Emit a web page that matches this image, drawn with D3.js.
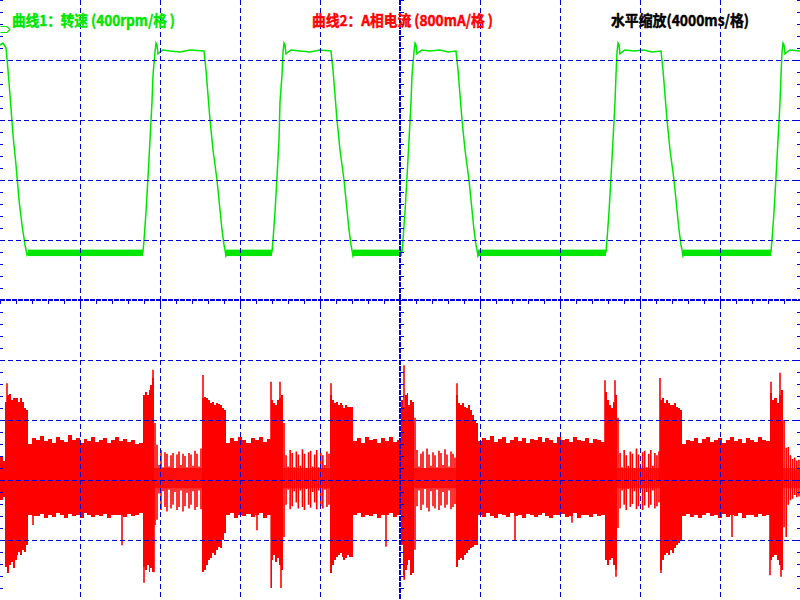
<!DOCTYPE html>
<html>
<head>
<meta charset="utf-8">
<script src="https://cdn.jsdelivr.net/npm/d3@7"></script>
<style>
  body { margin: 0; background: #fff; }
  svg { display: block; }
  .title { font-family: "Noto Sans CJK SC", sans-serif; font-weight: bold; font-size: 15px; stroke-width: 0.45px; }
</style>
</head>
<body>
<svg id="scope"></svg>
<script>
var width = 800,
  height = 600,
  divisions = 10,
  secPerDiv = 4,      // 4000 ms / div
  rpmPerDiv = 400,
  maPerDiv = 800;

var titles = ["曲线1：转速 (400rpm/格 )", "曲线2：A相电流 (800mA/格 )", "水平缩放(4000ms/格)"];
var titleColors = ["#00e600", "#ff0000", "#000000"];

// channel 1 : speed (s, rpm)
var speedPoints = [
  [0, 1700], [0.15, 1713], [0.3, 1680], [0.4, 1533], [0.5, 1367], [0.65, 1100], [0.8, 900], [0.95, 667], [1.1, 500], [1.25, 367], [1.35, 300], [1.45, 320],
  [7.15, 320], [7.2, 400], [7.3, 587], [7.4, 820], [7.5, 1067], [7.6, 1320], [7.65, 1500], [7.75, 1653], [7.8, 1713], [7.85, 1700], [7.9, 1640], [8.0, 1653], [8.15, 1667], [8.5, 1660], [9.0, 1653], [9.5, 1667], [10.2, 1660],
  [10.3, 1533], [10.4, 1367], [10.5, 1200], [10.65, 1000], [10.85, 800], [10.95, 667], [11.1, 467], [11.2, 367], [11.25, 333], [11.3, 293], [11.4, 320],
  [13.6, 320], [13.65, 400], [13.75, 587], [13.85, 820], [13.95, 1067], [14.0, 1320], [14.1, 1500], [14.15, 1653], [14.2, 1713], [14.25, 1700], [14.3, 1640], [14.4, 1653], [14.55, 1667], [15.0, 1660], [15.5, 1653], [16.0, 1667], [16.55, 1660],
  [16.65, 1533], [16.75, 1367], [16.85, 1200], [17.0, 1000], [17.2, 800], [17.3, 667], [17.45, 467], [17.55, 367], [17.6, 333], [17.65, 293], [17.75, 320],
  [20.1, 320], [20.15, 400], [20.25, 587], [20.35, 820], [20.45, 1067], [20.55, 1320], [20.6, 1500], [20.7, 1653], [20.75, 1713], [20.8, 1700], [20.85, 1640], [20.95, 1653], [21.1, 1667], [21.5, 1660], [22.0, 1667], [22.4, 1653], [22.8, 1660],
  [22.9, 1533], [23.0, 1367], [23.1, 1200], [23.25, 1000], [23.45, 800], [23.55, 667], [23.7, 467], [23.8, 367], [23.85, 333], [23.9, 293], [24.0, 320],
  [30.3, 320], [30.35, 400], [30.45, 587], [30.55, 820], [30.65, 1067], [30.75, 1320], [30.8, 1500], [30.85, 1653], [30.9, 1713], [30.95, 1700], [31.0, 1640], [31.1, 1653], [31.25, 1667], [31.7, 1660], [32.2, 1667], [32.6, 1653], [33.05, 1660],
  [33.15, 1533], [33.25, 1367], [33.35, 1200], [33.5, 1000], [33.7, 800], [33.8, 667], [33.95, 467], [34.05, 367], [34.1, 333], [34.15, 293], [34.25, 320],
  [38.55, 320], [38.6, 400], [38.7, 587], [38.8, 820], [38.9, 1067], [39.0, 1320], [39.05, 1500], [39.1, 1653], [39.15, 1713], [39.2, 1700], [39.25, 1640], [39.35, 1653], [39.5, 1667], [40, 1660]
];

// noisy low-speed stretches (s) and the band they fill (rpm)
var lowFrom = [1.4, 11.3, 17.65, 23.9, 34.15];
var lowTo = [7.15, 13.6, 20.1, 30.3, 38.55];
var lowBand = [293, 336];

// channel 2 : phase A current, segment by segment (s, mA)
var segKind = ["dense", "burst", "dense", "burst", "sparse", "sparse", "burst", "dense", "burst", "sparse", "burst",
  "dense", "burst", "sparse", "burst", "dense", "burst", "sparse", "burst", "dense", "burst", "sparse"];
var segStart = [0, 0.25, 1.4, 7.15, 7.7, 7.9, 10.1, 11.3, 13.55, 14.15, 16.5, 17.65, 20.05, 20.7, 22.8, 23.9, 30.25, 30.85, 33.0, 34.1, 38.5, 39.15];
var segEnd = [0.25, 1.4, 7.15, 7.7, 7.9, 10.1, 11.3, 13.55, 14.15, 16.5, 17.65, 20.05, 20.7, 22.8, 23.9, 30.25, 30.85, 33.0, 34.1, 38.5, 39.15, 40];
var segHi = [
  [310, 250],
  [1040, 1130, 1150, 1070, 1090, 1100, 1090, 1040, 1090, 1040, 960, 930],
  [480, 560, 530, 590, 520, 550, 500, 570, 540, 510, 600, 530, 560, 490, 550, 520, 580, 510, 540, 560, 500, 530, 570, 520, 550, 510, 540, 480, 500],
  [1130, 1170, 1130, 1200, 1270, 1360],
  [760, 470],
  [200, 400, 170, 370, 350, 180, 330, 360, 160, 340, 380, 200, 350, 320, 170, 360, 340, 190, 390, 350, 180, 420],
  [1100, 1110, 1090, 1070, 1030, 1040, 1000, 1030, 1010, 1000, 960, 930],
  [490, 560, 520, 570, 540, 500, 560, 530, 580, 510, 550],
  [1070, 1030, 1000, 1070, 1090, 1130],
  [760, 330, 180, 400, 360, 170, 380, 340, 190, 410, 350, 160, 370, 390, 180, 340, 400, 170, 360, 330, 200, 380, 350],
  [1130, 1070, 1030, 1040, 1000, 1030, 1000, 960, 1000, 970, 970, 970],
  [520, 560, 500, 570, 530, 550, 490, 560, 520, 570, 510, 540],
  [1070, 970, 1130, 1160, 1000, 1070, 1040],
  [830, 400, 180, 350, 380, 160, 420, 340, 190, 370, 330, 170, 390, 360, 200, 410, 340, 180, 380, 350, 300],
  [1130, 1030, 1000, 1030, 970, 960, 1000, 930, 870, 800, 760],
  [520, 560, 540, 590, 510, 550, 570, 500, 540, 580, 520, 560, 490, 550, 530, 570, 510, 560, 540, 500, 580, 530, 550, 510, 570, 540, 520, 560, 500, 550, 530, 510],
  [1170, 1070, 1000, 960, 1040, 1130],
  [830, 360, 170, 400, 330, 190, 380, 350, 160, 420, 340, 180, 370, 390, 170, 350, 400, 190, 360, 330, 380],
  [1070, 1090, 1030, 1070, 1030, 1000, 1000, 1030, 970, 960, 930],
  [480, 540, 520, 560, 500, 550, 580, 510, 540, 560, 490, 530, 570, 520, 550, 500, 560, 530, 510, 570, 540, 520],
  [1160, 1070, 1090, 1030, 1130, 1200],
  [800, 430, 440, 330, 280, 300, 260, 270]
];
var segLo = [
  [-270, -220],
  [-1160, -1240, -1130, -1090, -1170, -1070, -1000, -960, -1000, -930, -960, -870],
  [-470, -480, -480, -450, -500, -460, -490, -440, -470, -500, -450, -480, -460, -500, -440, -470, -490, -460, -480, -450, -500, -470, -460, -460, -490, -450, -480, -470, -440],
  [-1160, -1200, -1130, -1230, -1170, -1230],
  [-600, -530],
  [-180, -400, -150, -360, -420, -130, -380, -330, -160, -400, -360, -140, -420, -350, -170, -380, -330, -150, -400, -360, -140, -390],
  [-1230, -1200, -1130, -1070, -1040, -970, -1000, -930, -890, -910, -800, -710],
  [-470, -440, -500, -460, -480, -450, -490, -470, -440, -500, -460],
  [-1070, -1000, -1090, -1040, -1130, -1200],
  [-760, -330, -130, -390, -350, -150, -300, -380, -140, -360, -400, -120, -330, -370, -160, -300, -390, -140, -350, -380, -130, -360, -330],
  [-1240, -1130, -1070, -1030, -1000, -970, -1030, -1070, -1040, -1000, -1030, -1030],
  [-470, -440, -490, -460, -480, -450, -500, -460, -470, -440, -490, -460],
  [-870, -1270, -1200, -1130, -1070, -1270, -1240],
  [-930, -350, -140, -400, -330, -120, -370, -420, -150, -350, -380, -130, -400, -340, -160, -370, -330, -140, -390, -360, -320],
  [-1160, -1070, -1040, -1070, -1000, -970, -930, -910, -890, -870, -870],
  [-460, -490, -440, -480, -500, -450, -470, -490, -440, -480, -460, -500, -450, -470, -490, -460, -440, -480, -500, -460, -470, -450, -490, -480, -440, -500, -470, -460, -490, -450, -480, -470],
  [-1070, -1130, -1070, -1040, -1130, -1200],
  [-640, -380, -140, -330, -400, -120, -360, -320, -150, -390, -350, -130, -400, -340, -160, -370, -330, -140, -380, -350, -300],
  [-1200, -1070, -1000, -970, -1000, -930, -970, -910, -870, -840, -800],
  [-480, -450, -490, -470, -500, -460, -440, -480, -470, -500, -450, -490, -460, -480, -440, -500, -470, -460, -490, -450, -480, -470],
  [-1070, -1030, -1000, -1070, -1130, -1200],
  [-630, -760, -330, -270, -250, -200, -230, -220]
];
// the half-filled core of the sparse stretches (mA)
var sparseCore = [160, -110];

// single-sample spikes (s, mA)
var spikeTime = [0.35, 0.4, 1.65, 6.1, 7.2, 7.65, 7.7, 10.15, 12.85, 13.55, 13.56, 14.0, 14.05, 16.55, 19.3, 20.2, 20.21, 20.65,
  22.85, 25.75, 28.6, 30.25, 30.75, 30.8, 33.0, 33.05, 36.6, 38.5, 38.55, 39.0, 39.05];
var spikeMa = [1290, -1240, -600, -870, -1370, 1470, -1230, 1400, -670, 1310, -1440, 1310, -1440, 1290, -890, 1530, -1330, -1240,
  1290, -800, -570, 1330, 1330, -1290, 1360, -1240, -760, -1270, 1310, 1430, -1290];

var svg = d3.select("#scope")
  .attr("width", width)
  .attr("height", height);

svg.append("rect").attr("width", width).attr("height", height).attr("fill", "#fff");

var x = d3.scaleLinear().domain([0, divisions * secPerDiv]).range([0, width]);
var ySpeed = d3.scaleLinear().domain([-5 * rpmPerDiv, 5 * rpmPerDiv]).range([height, 0]);
var yCur = d3.scaleLinear().domain([-2 * maPerDiv, 8 * maPerDiv]).range([height, 0]);

var green = "#00e600", red = "#ff0000", blue = "#0000dd";

// ---- red trace
var redLayer = svg.append("g");
var bandArea = d3.area()
  .x(function(d) { return x(d.t); })
  .y0(function(d) { return yCur(d.lo); })
  .y1(function(d) { return yCur(d.hi); })
  .curve(d3.curveStepAfter);

segKind.forEach(function(kind, s) {
  var n = segHi[s].length,
    step = (segEnd[s] - segStart[s]) / n;
  var pts = segHi[s].map(function(h, i) {
    return { t: segStart[s] + i * step, hi: h, lo: segLo[s][i] };
  });
  if (kind === "sparse") {
    redLayer.append("rect")
      .attr("x", x(segStart[s]))
      .attr("width", x(segEnd[s]) - x(segStart[s]))
      .attr("y", yCur(sparseCore[0]))
      .attr("height", yCur(sparseCore[1]) - yCur(sparseCore[0]))
      .attr("fill", red)
      .attr("fill-opacity", 0.75);
    redLayer.selectAll(null)
      .data(pts)
      .enter().append("line")
      .attr("x1", function(d) { return x(d.t + step / 2); })
      .attr("x2", function(d) { return x(d.t + step / 2); })
      .attr("y1", function(d) { return yCur(d.hi); })
      .attr("y2", function(d) { return yCur(d.lo); })
      .attr("stroke", red)
      .attr("stroke-width", 1.6);
  } else {
    pts.push({ t: segEnd[s], hi: segHi[s][n - 1], lo: segLo[s][n - 1] });
    redLayer.append("path")
      .datum(pts)
      .attr("d", bandArea)
      .attr("fill", red)
      .attr("shape-rendering", "crispEdges");
  }
});

redLayer.selectAll(".spike")
  .data(spikeTime)
  .enter().append("line")
  .attr("class", "spike")
  .attr("x1", function(d) { return x(d); })
  .attr("x2", function(d) { return x(d); })
  .attr("y1", yCur(0))
  .attr("y2", function(d, i) { return yCur(spikeMa[i]); })
  .attr("stroke", red)
  .attr("stroke-width", 1.6);

// ---- green trace
svg.append("g").selectAll("rect")
  .data(lowFrom)
  .enter().append("rect")
  .attr("x", function(d) { return x(d); })
  .attr("width", function(d, i) { return x(lowTo[i]) - x(d); })
  .attr("y", ySpeed(lowBand[1]))
  .attr("height", ySpeed(lowBand[0]) - ySpeed(lowBand[1]))
  .attr("fill", green);

svg.append("path")
  .datum(speedPoints)
  .attr("d", d3.line()
    .x(function(d) { return x(d[0]); })
    .y(function(d) { return ySpeed(d[1]); }))
  .attr("fill", "none")
  .attr("stroke", green)
  .attr("stroke-width", 1.5);

// ---- grid
var grid = svg.append("g").attr("shape-rendering", "crispEdges");
var vLines = d3.range(1, divisions).filter(function(k) { return k !== divisions / 2; });
grid.selectAll(".gv")
  .data(vLines)
  .enter().append("line")
  .attr("x1", function(k) { return Math.round(x(k * secPerDiv)) + 0.5; })
  .attr("x2", function(k) { return Math.round(x(k * secPerDiv)) + 0.5; })
  .attr("y1", 0).attr("y2", height)
  .attr("stroke", blue).attr("stroke-dasharray", "5,3");
grid.selectAll(".gh")
  .data(d3.range(-4, 5).filter(function(k) { return k !== 0; }))
  .enter().append("line")
  .attr("y1", function(k) { return Math.round(ySpeed(k * rpmPerDiv)) + 0.5; })
  .attr("y2", function(k) { return Math.round(ySpeed(k * rpmPerDiv)) + 0.5; })
  .attr("x1", 0).attr("x2", width)
  .attr("stroke", blue).attr("stroke-dasharray", "5,3");

// centre cross with minor ticks
var cx = x(divisions * secPerDiv / 2), cy = ySpeed(0);
grid.append("line").attr("x1", cx).attr("x2", cx).attr("y1", 0).attr("y2", height)
  .attr("stroke", blue).attr("stroke-width", 2).attr("stroke-dasharray", "5,1");
grid.append("line").attr("y1", cy).attr("y2", cy).attr("x1", 0).attr("x2", width)
  .attr("stroke", blue).attr("stroke-width", 2).attr("stroke-dasharray", "5,1");

var minorT = d3.range(0, divisions * secPerDiv + 0.01, secPerDiv / 5);
grid.selectAll(".tx")
  .data(minorT)
  .enter().append("line")
  .attr("x1", function(d) { return Math.round(x(d)) + 0.5; })
  .attr("x2", function(d) { return Math.round(x(d)) + 0.5; })
  .attr("y1", cy).attr("y2", cy + 4)
  .attr("stroke", blue).attr("stroke-width", 1.2);

var minorR = d3.range(-5 * rpmPerDiv, 5 * rpmPerDiv + 1, rpmPerDiv / 5);
[[cx, cx + 4], [0, 3], [width - 3, width]].forEach(function(span) {
  grid.selectAll(null)
    .data(minorR)
    .enter().append("line")
    .attr("y1", function(d) { return Math.round(ySpeed(d)) + 0.5; })
    .attr("y2", function(d) { return Math.round(ySpeed(d)) + 0.5; })
    .attr("x1", span[0]).attr("x2", span[1])
    .attr("stroke", blue).attr("stroke-width", 1.2);
});

// channel 1 reference marker
svg.append("path")
  .attr("d", "M0.5,26.5 H7 L10,29.5 L7,32.5 H0.5")
  .attr("fill", "none")
  .attr("stroke", green)
  .attr("stroke-width", 1.2);

// ---- titles
var titleX = [12, 312, 611];
var titleW = [163, 181, 138];
svg.selectAll(".title")
  .data(titles)
  .enter().append("text")
  .attr("class", "title")
  .attr("x", function(d, i) { return titleX[i]; })
  .attr("y", 26)
  .attr("textLength", function(d, i) { return titleW[i]; })
  .attr("lengthAdjust", "spacingAndGlyphs")
  .attr("fill", function(d, i) { return titleColors[i]; })
  .attr("stroke", function(d, i) { return titleColors[i]; })
  .text(function(d) { return d; });
</script>
</body>
</html>
